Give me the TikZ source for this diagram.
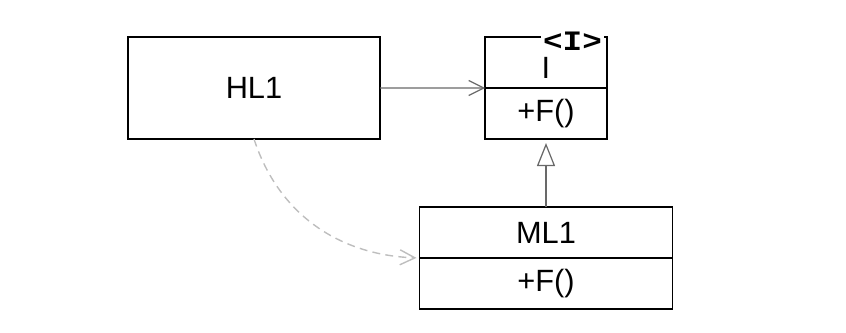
\documentclass[tikz,border=0pt]{standalone}
\usepackage{graphicx}
\usepackage{fontspec}
\setmainfont{Liberation Sans}
\newfontfamily\stereofont{Liberation Mono}
\usetikzlibrary{positioning,arrows.meta}
\definecolor{assocgray}{RGB}{105,105,105}
\definecolor{depgray}{RGB}{190,190,190}

\begin{document}
\begin{tikzpicture}[
    font=\fontsize{17.5}{20}\selectfont,
    part/.style={draw, line width=1pt, minimum width=2.44cm, minimum height=1.02cm, inner sep=0pt, outer sep=0pt},
    wide/.style={part, minimum width=5.06cm},
    stereo/.style={fill=white, inner xsep=1pt, inner ysep=0.5pt, text depth=0pt, anchor=base, font=\stereofont\bfseries\fontsize{16}{16}\selectfont},
    assoc/.style={-{Straight Barb[length=0.3cm,width=0.3cm]}, assocgray, line width=0.7pt},
    realize/.style={-{Triangle[open,length=0.46cm,width=0.36cm]}, assocgray, line width=0.7pt, shorten >=0.08cm},
    dep/.style={-{Straight Barb[length=0.3cm,width=0.3cm]}, depgray, dashed, dash pattern=on 4.5pt off 3pt, line width=0.8pt, shorten >=0.06cm},
]
\useasboundingbox (0,0) rectangle (16.92,-6.64);

% interface I
\node[part, text height=0.62cm, text depth=0pt] (iname) at (10.92,-1.25) {I};
\node[part, below=0pt of iname] (iops) {+F()};
\node[stereo] (istereo) at ([xshift=-0.69cm, yshift=-0.26cm]iname.north east) {\scalebox{1.16}[1]{<I>}};

% high level and low level classes
\node[part, minimum width=5.04cm, minimum height=2.04cm, left=2.1cm of iname.north west, anchor=north east] (hl1) {HL1};
\node[wide, below=1.36cm of iops] (mname) {ML1};
\node[wide, below=0pt of mname] (mops) {+F()};

\draw[assoc]   (hl1.east) -- (iname.south west);
\draw[realize] (mname.north) -- (iops.south);
\draw[dep]     (hl1.south) to[out=-72, in=178] (mname.south west);
\end{tikzpicture}
\end{document}
